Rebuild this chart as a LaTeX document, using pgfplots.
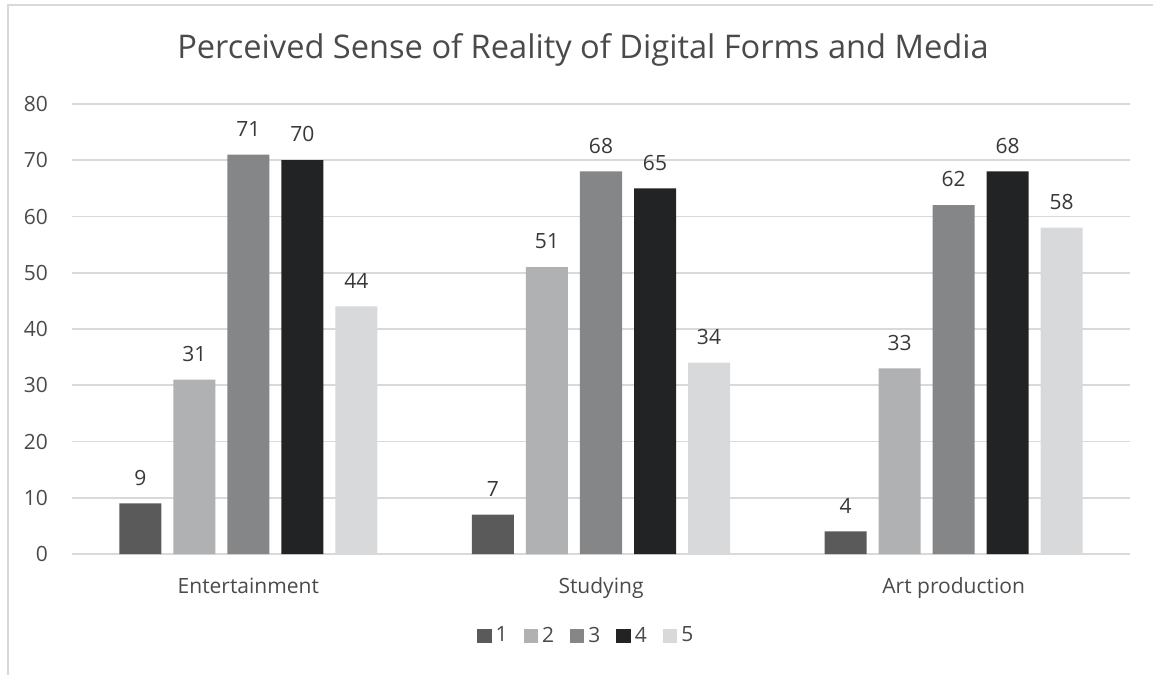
\documentclass[border=0pt]{standalone}
\usepackage{pgfplots}
\pgfplotsset{compat=1.18}
\usepackage{fontspec}
\setmainfont{Open Sans}
\definecolor{c1}{HTML}{5A5A5B}
\definecolor{c2}{HTML}{B0B1B3}
\definecolor{c3}{HTML}{858687}
\definecolor{c4}{HTML}{222325}
\definecolor{c5}{HTML}{D8D9DB}
\definecolor{gridc}{HTML}{D9D9D9}
\definecolor{txt}{HTML}{4A4A4A}
\begin{document}
\begin{tikzpicture}
\begin{axis}[
  at={(0pt,0pt)}, anchor=south west,
  scale only axis, width=529pt, height=225pt,
  ybar=6pt, bar width=21pt,
  xmin=-0.5, xmax=2.5, ymin=0, ymax=80,
  xtick={0,1,2}, xticklabels={Entertainment,Studying,Art production},
  ytick={0,10,...,80},
  ymajorgrids, grid style={gridc, line width=0.8pt},
  axis line style={draw=none}, tick style={draw=none},
  /pgf/number format/assume math mode=true,
  tick label style={font=\fontsize{10.5}{12}\selectfont, text=txt},
  yticklabel style={anchor=east, xshift=-8.5pt},
  xticklabel style={anchor=base, yshift=-15.5pt},
  nodes near coords,
  every node near coord/.append style={font=\fontsize{10.5}{12}\selectfont, text=black!78, yshift=5.5pt},
  title={Perceived Sense of Reality of Digital Forms and Media},
  title style={font=\fontsize{16.3}{19}\selectfont, text=txt, at={(rel axis cs:0.483,1)}, anchor=center, yshift=21pt},
  legend columns=5,
  legend style={draw=none, at={(rel axis cs:0.487,0)}, anchor=center, yshift=-41pt,
    font=\fontsize{10.5}{12}\selectfont, text=txt,
    /tikz/every even column/.append style={column sep=6pt}},
  legend image code/.code={\fill[#1] (0pt,-3.6pt) rectangle (7.2pt,3.6pt);},
]
\addplot[fill=c1, draw=none] coordinates {(0,9) (1,7) (2,4)};
\addplot[fill=c2, draw=none] coordinates {(0,31) (1,51) (2,33)};
\addplot[fill=c3, draw=none] coordinates {(0,71) (1,68) (2,62)};
\addplot[fill=c4, draw=none] coordinates {(0,70) (1,65) (2,68)};
\addplot[fill=c5, draw=none] coordinates {(0,44) (1,34) (2,58)};
\legend{1,2,3,4,5}
\end{axis}
\draw[gridc, line width=1pt] (-32pt,-60.5pt) -- (-32pt,274.5pt) -- (540.5pt,274.5pt);
\pgfresetboundingbox
\path[use as bounding box] (-36pt,-60.5pt) rectangle (540.5pt,277pt);
\end{tikzpicture}
\end{document}
